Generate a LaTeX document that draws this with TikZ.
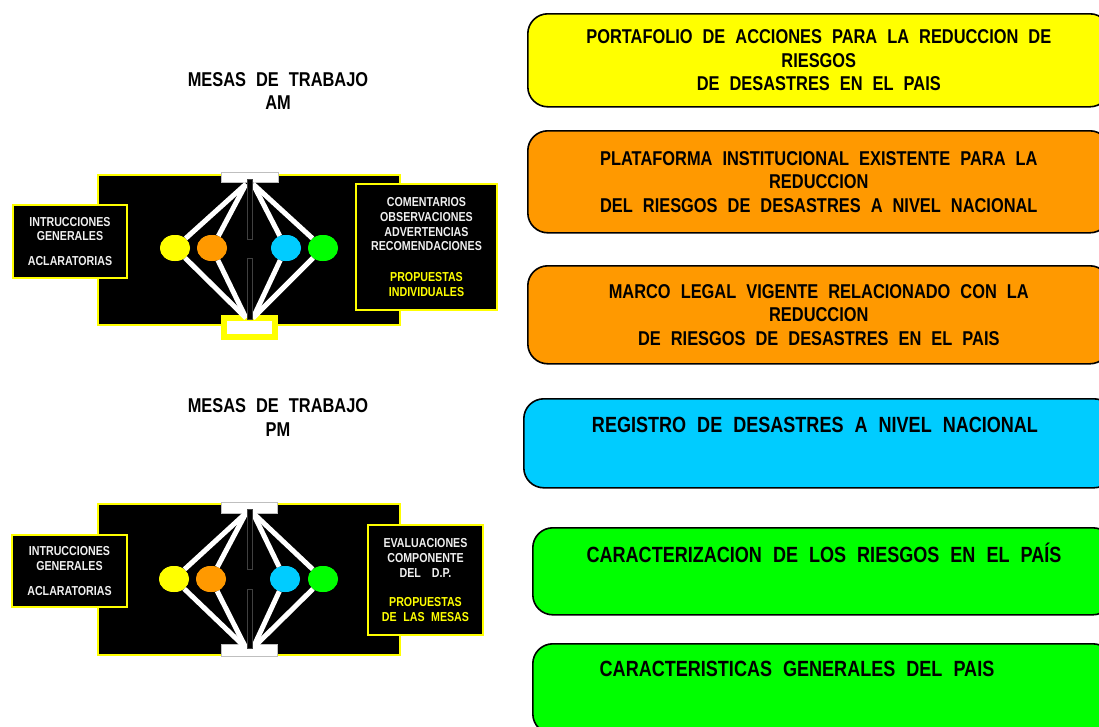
\documentclass[tikz,border=0pt]{standalone}
\usepackage{fontspec}
\setmainfont{Liberation Sans}[FakeStretch=0.82,WordSpace=2.2]
\usetikzlibrary{shapes.geometric}
\definecolor{cyel}{HTML}{FFFF00}
\definecolor{corg}{HTML}{FF9900}
\definecolor{ccyn}{HTML}{00CCFF}
\definecolor{cgrn}{HTML}{00FF00}
\definecolor{cwht}{HTML}{F0F0F0}
\newcommand\bigfnt{\fontsize{20}{23.5}\selectfont\bfseries}
\newcommand\regfnt{\fontsize{22}{25}\selectfont\bfseries}
\newcommand\smallfnt{\fontsize{13}{14.8}\selectfont\bfseries}
\begin{document}
\begin{tikzpicture}[x=1pt,y=-1pt,
  rbox/.style={draw=black, line width=1.6pt, rounded corners=20pt, anchor=north west, inner sep=0pt, font=\bigfnt, align=center},
  btxt/.style={inner sep=0pt, align=center},
  board/.style={fill=black, draw=cyel, line width=1.5pt, anchor=north west, inner sep=0pt},
  sidebox/.style={fill=black, draw=cyel, line width=2pt, inner sep=0pt, align=center, text=cwht, font=\smallfnt},
  notch/.style={fill=white, draw=gray!50, line width=0.6pt, anchor=north west, inner sep=0pt},
  barseg/.style={fill=black, draw=black!75, line width=0.5pt},
  ball/.style={ellipse, minimum width=30pt, minimum height=26pt, inner sep=0pt},
  wline/.style={draw=white, line width=5pt},
  title/.style={align=center, font=\bigfnt, inner sep=0pt}
]
\useasboundingbox (0,0) rectangle (1099,726);
\clip (0,0) rectangle (1099,726);
\fill[white] (0,0) rectangle (1099,726);

% ---------------- titles
\node[title] (tAM) at (278,91) {MESAS DE TRABAJO\\AM};
\node[title] (tPM) at (278,417.5) {MESAS DE TRABAJO\\PM};

% ---------------- AM board
\node[board, minimum width=302pt, minimum height=150pt] (boardA) at (97,174) {};
\node[notch, minimum width=57pt, minimum height=10pt] (ntA) at (221,172) {};
\node[fill=white, draw=cyel, line width=6pt, inner sep=0pt, minimum width=51pt, minimum height=19pt] (nbA) at (249.5,327.5) {};
\coordinate (tlA) at (246,184);
\coordinate (trA) at (253,184);
\coordinate (blA) at (246,318);
\coordinate (brA) at (253,318);
\node[ball, fill=cyel] (yA) at (175,248) {};
\node[ball, fill=corg] (oA) at (212,248) {};
\node[ball, fill=ccyn] (cA) at (286,248) {};
\node[ball, fill=cgrn] (gA) at (323,248) {};
\draw[wline] (tlA) -- (yA);
\draw[wline] (tlA) -- (oA);
\draw[wline] (trA) -- (cA);
\draw[wline] (trA) -- (gA);
\draw[wline] (blA) -- (yA);
\draw[wline] (blA) -- (oA);
\draw[wline] (brA) -- (cA);
\draw[wline] (brA) -- (gA);
\draw[barseg] (247,179) rectangle (252,239);
\draw[barseg] (247,258) rectangle (252,319);
\node[ball, fill=cyel] at (yA) {};
\node[ball, fill=corg] at (oA) {};
\node[ball, fill=ccyn] at (cA) {};
\node[ball, fill=cgrn] at (gA) {};
\node[sidebox, minimum width=114pt, minimum height=73pt] (lA) at (70,241.5)
  {INTRUCCIONES\\GENERALES\\[10pt]ACLARATORIAS};
\node[sidebox, minimum width=141pt, minimum height=126pt] (rA) at (426.5,247)
  {COMENTARIOS\\OBSERVACIONES\\ADVERTENCIAS\\RECOMENDACIONES\\[16pt]\textcolor{cyel}{PROPUESTAS}\\\textcolor{cyel}{INDIVIDUALES}};

% ---------------- PM board
\node[board, minimum width=302pt, minimum height=151pt] (boardP) at (97,503) {};
\node[notch, minimum width=56pt, minimum height=11pt] (ntP) at (221,502) {};
\node[notch, minimum width=56pt, minimum height=12pt] (nbP) at (221,644) {};
\coordinate (tlP) at (246,513);
\coordinate (trP) at (253,513);
\coordinate (blP) at (246,648);
\coordinate (brP) at (253,648);
\node[ball, fill=cyel] (yP) at (174,579) {};
\node[ball, fill=corg] (oP) at (211,579) {};
\node[ball, fill=ccyn] (cP) at (285,579) {};
\node[ball, fill=cgrn] (gP) at (323,579) {};
\draw[wline] (tlP) -- (yP);
\draw[wline] (tlP) -- (oP);
\draw[wline] (trP) -- (cP);
\draw[wline] (trP) -- (gP);
\draw[wline] (blP) -- (yP);
\draw[wline] (blP) -- (oP);
\draw[wline] (brP) -- (cP);
\draw[wline] (brP) -- (gP);
\draw[barseg] (247,509) rectangle (252,569);
\draw[barseg] (247,589) rectangle (252,648);
\node[ball, fill=cyel] at (yP) {};
\node[ball, fill=corg] at (oP) {};
\node[ball, fill=ccyn] at (cP) {};
\node[ball, fill=cgrn] at (gP) {};
\node[sidebox, minimum width=115pt, minimum height=72pt] (lP) at (69.5,571)
  {INTRUCCIONES\\GENERALES\\[10pt]ACLARATORIAS};
\node[sidebox, minimum width=115pt, minimum height=110pt] (rP) at (425.5,580)
  {EVALUACIONES\\COMPONENTE\\DEL\hspace{11pt}D.P.\\[14pt]\textcolor{cyel}{PROPUESTAS}\\\textcolor{cyel}{DE LAS MESAS}};

% ---------------- right column boxes
\node[rbox, fill=cyel, minimum width=582pt, minimum height=93pt] (b1) at (527,13)
  {PORTAFOLIO DE ACCIONES PARA LA REDUCCION DE\\RIESGOS\\DE DESASTRES EN EL PAIS};
\node[rbox, fill=corg, minimum width=582pt, minimum height=102pt] (b2) at (527,130)
  {PLATAFORMA INSTITUCIONAL EXISTENTE PARA LA\\REDUCCION\\DEL RIESGOS DE DESASTRES A NIVEL NACIONAL};
\node[rbox, fill=corg, minimum width=582pt, minimum height=98pt] (b3) at (527,265)
  {MARCO LEGAL VIGENTE RELACIONADO CON LA\\REDUCCION\\DE RIESGOS DE DESASTRES EN EL PAIS};
\node[rbox, fill=ccyn, minimum width=590pt, minimum height=89pt] (b4) at (523,398) {};
\node[btxt, font=\regfnt] (t4) at (815,425) {REGISTRO DE DESASTRES A NIVEL NACIONAL};
\node[rbox, fill=cgrn, minimum width=580pt, minimum height=87pt] (b5) at (532,527) {};
\node[btxt, font=\regfnt] (t5) at (824,553) {CARACTERIZACION DE LOS RIESGOS EN EL PAÍS};
\node[rbox, fill=cgrn, minimum width=580pt, minimum height=90pt] (b6) at (532,643) {};
\node[btxt, font=\regfnt] (t6) at (797,669) {CARACTERISTICAS GENERALES DEL PAIS};
\end{tikzpicture}
\end{document}
